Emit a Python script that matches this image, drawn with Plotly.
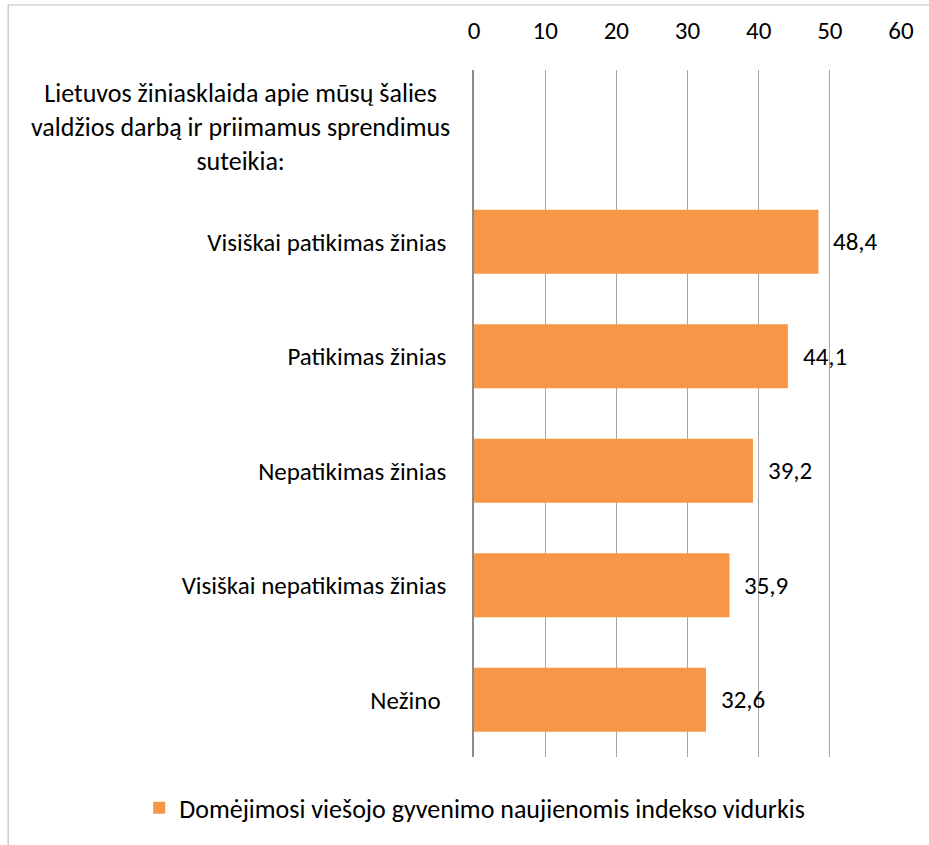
import plotly.graph_objects as go

header = "Lietuvos žiniasklaida apie mūsų šalies<br>valdžios darbą ir priimamus sprendimus<br>suteikia:"
categories = ["Visiškai patikimas žinias", "Patikimas žinias", "Nepatikimas žinias",
              "Visiškai nepatikimas žinias", "Nežino "]
values = [48.4, 44.1, 39.2, 35.9, 32.6]
labels = ["48,4", "44,1", "39,2", "35,9", "32,6"]
series_name = "Domėjimosi viešojo gyvenimo naujienomis indekso vidurkis"
x_ticks = [0, 10, 20, 30, 40, 50, 60]

HEADER_KEY = "__header__"
all_cats = [HEADER_KEY] + categories

FONT = "Carlito, Lato, Calibri, sans-serif"
FS = 25
ORANGE = "#F79646"

fig = go.Figure()
fig.add_trace(go.Bar(
    x=values, y=categories, orientation="h",
    marker=dict(color=ORANGE, line=dict(width=0)),
    width=0.56, name=series_name, showlegend=True,
))

for v, c, t in zip(values, categories, labels):
    fig.add_annotation(x=v, y=c, text=t, showarrow=False, xanchor="left",
                       xshift=13, font=dict(family=FONT, size=FS, color="black"))

fig.add_annotation(x=-0.548, y=HEADER_KEY, xref="paper", yref="y", text=header,
                   showarrow=False, align="center", xanchor="center", yanchor="middle",
                   font=dict(family=FONT, size=26, color="black"))

# outer chart border
fig.add_shape(type="rect", xref="paper", yref="paper",
              x0=-1.091, x1=1.2, y0=-0.2, y1=1.0946,
              line=dict(color="#BFBFBF", width=1.2), fillcolor="rgba(0,0,0,0)", layer="below")

fig.update_layout(
    width=929, height=845,
    margin=dict(l=474, r=28, t=70, b=88),
    paper_bgcolor="white", plot_bgcolor="white",
    font=dict(family=FONT, size=FS, color="black"),
    bargap=0.44,
    xaxis=dict(side="top", range=[0, 60], tickvals=x_ticks, ticktext=[str(t) for t in x_ticks],
               showgrid=True, gridcolor="#A6A6A6", gridwidth=1.3, zeroline=False,
               showline=False, ticks="outside", ticklen=20, tickcolor="rgba(0,0,0,0)",
               tickfont=dict(size=FS), fixedrange=True, automargin=False),
    yaxis=dict(categoryorder="array", categoryarray=all_cats[::-1], type="category",
               range=[-0.5, len(all_cats) - 0.5],
               tickvals=all_cats, ticktext=[""] + categories,
               showgrid=False, zeroline=False, showline=True, linecolor="#8C8C8C", linewidth=1.5,
               ticks="outside", ticklen=21, tickcolor="rgba(0,0,0,0)", tickfont=dict(size=FS),
               automargin=False),
    legend=dict(orientation="h", xref="container", yref="container", x=0.511, y=0.044,
                xanchor="center", yanchor="middle", font=dict(size=26),
                itemwidth=30),
    showlegend=True,
)

fig.write_html("out.html", config={"displayModeBar": False},
               post_script="document.body.style.margin='0';")
